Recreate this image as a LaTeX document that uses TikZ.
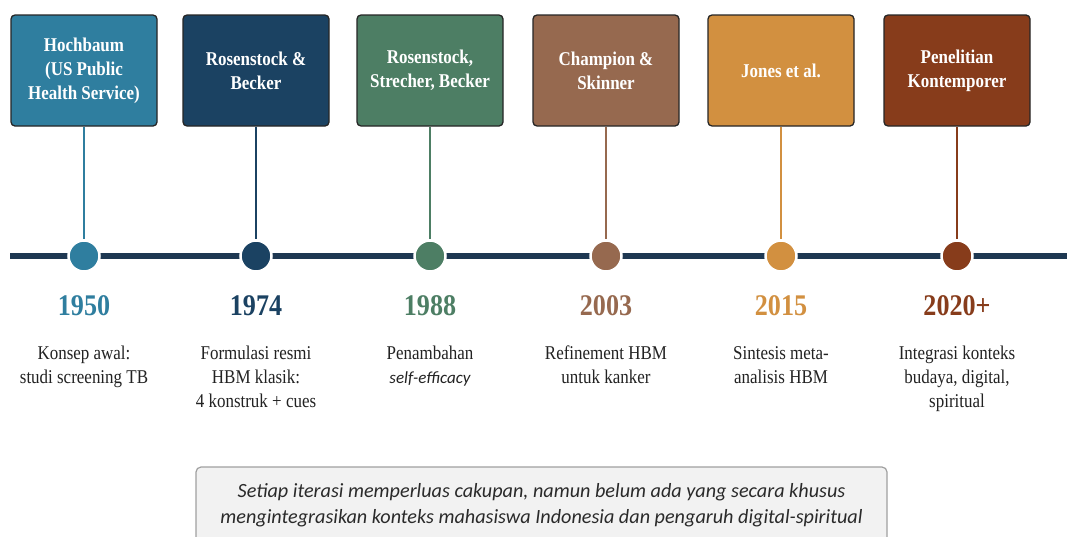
\documentclass[tikz,border=0pt]{standalone}
\usepackage{fontspec}
\setmainfont{Liberation Serif}[FakeStretch=0.87]
\newfontfamily\notefont{Carlito}
\usetikzlibrary{positioning}
\definecolor{cA}{HTML}{2F7E9F}
\definecolor{cB}{HTML}{1B4262}
\definecolor{cC}{HTML}{4D7E64}
\definecolor{cD}{HTML}{96694F}
\definecolor{cE}{HTML}{D29040}
\definecolor{cF}{HTML}{873C1B}
\definecolor{lineC}{HTML}{1E3852}
\definecolor{descC}{HTML}{222222}
\definecolor{noteFill}{HTML}{F2F2F2}
\definecolor{noteDraw}{HTML}{A0A0A0}
\definecolor{noteText}{HTML}{2A2A2A}
\tikzset{
  evbox/.style={draw=black!85, line width=1.3pt, rounded corners=4pt, fill=#1,
    minimum width=146pt, minimum height=111pt, inner sep=0pt, text=white,
    align=center, font=\bfseries\fontsize{19.5}{24}\selectfont},
  evdot/.style={circle, fill=#1, draw=white, line width=2.5pt, minimum size=31pt, inner sep=0pt},
  evstem/.style={draw=#1, line width=2.8pt},
  evyear/.style={text=#1, font=\bfseries\fontsize{30}{34}\selectfont, inner sep=0pt},
  evdesc/.style={text=descC, align=center, font=\fontsize{19.5}{24}\selectfont, inner sep=0pt, anchor=north}
}
\begin{document}
\begin{tikzpicture}[x=1pt,y=-1pt]
\clip (0,0) rectangle (1067,536);
\fill[white] (0,0) rectangle (1067,536);
% timeline
\coordinate (tlL) at (10,256);
\coordinate (tlR) at (1067,256);
\draw[lineC, line width=5.5pt] (tlL) -- (tlR);
% boxes
\node[evbox=cA] (box1) at (84,70.5) {\raisebox{-3pt}{\begin{tabular}{@{}c@{}}Hochbaum\\(US Public\\Health Service)\end{tabular}}};
\node[evbox=cB] (box2) at (256,70.5) {Rosenstock \&\\Becker};
\node[evbox=cC] (box3) at (430,70.5) {Rosenstock,\\Strecher, Becker};
\node[evbox=cD] (box4) at (606,70.5) {Champion \&\\Skinner};
\node[evbox=cE] (box5) at (781,70.5) {Jones et al.};
\node[evbox=cF] (box6) at (957,70.5) {Penelitian\\Kontemporer};
% dots
\node[evdot=cA] (dot1) at (84,256) {};
\node[evdot=cB] (dot2) at (256,256) {};
\node[evdot=cC] (dot3) at (430,256) {};
\node[evdot=cD] (dot4) at (606,256) {};
\node[evdot=cE] (dot5) at (781,256) {};
\node[evdot=cF] (dot6) at (957,256) {};
% stems
\draw[evstem=cA] (box1.south) -- (dot1.north);
\draw[evstem=cB] (box2.south) -- (dot2.north);
\draw[evstem=cC] (box3.south) -- (dot3.north);
\draw[evstem=cD] (box4.south) -- (dot4.north);
\draw[evstem=cE] (box5.south) -- (dot5.north);
\draw[evstem=cF] (box6.south) -- (dot6.north);
% years
\node[evyear=cA] (yr1) at (84,306) {1950};
\node[evyear=cB] (yr2) at (256,306) {1974};
\node[evyear=cC] (yr3) at (430,306) {1988};
\node[evyear=cD] (yr4) at (606,306) {2003};
\node[evyear=cE] (yr5) at (781,306) {2015};
\node[evyear=cF] (yr6) at (957,306) {2020+};
% descriptions
\node[evdesc] (desc1) at (84,346) {Konsep awal:\\studi screening TB};
\node[evdesc] (desc2) at (256,346) {Formulasi resmi\\HBM klasik:\\4 konstruk + cues};
\node[evdesc] (desc3) at (430,346) {Penambahan\\{\notefont\itshape\fontsize{17}{24}\selectfont self-efficacy}};
\node[evdesc] (desc4) at (606,346) {Refinement HBM\\untuk kanker};
\node[evdesc] (desc5) at (781,346) {Sintesis meta-\\analisis HBM};
\node[evdesc] (desc6) at (957,346) {Integrasi konteks\\budaya, digital,\\spiritual};
% note
\node[draw=noteDraw, fill=noteFill, line width=1.2pt, rounded corners=5pt,
  minimum width=691pt, minimum height=100pt, inner sep=0pt] (notebox) at (541.5,517) {};
\node[text=noteText, align=center, font=\notefont\itshape\fontsize{20.2}{26}\selectfont, inner sep=0pt]
  (note) at (541.5,505) {Setiap iterasi memperluas cakupan, namun belum ada yang secara khusus\\mengintegrasikan konteks mahasiswa Indonesia dan pengaruh digital-spiritual};
\end{tikzpicture}
\end{document}
